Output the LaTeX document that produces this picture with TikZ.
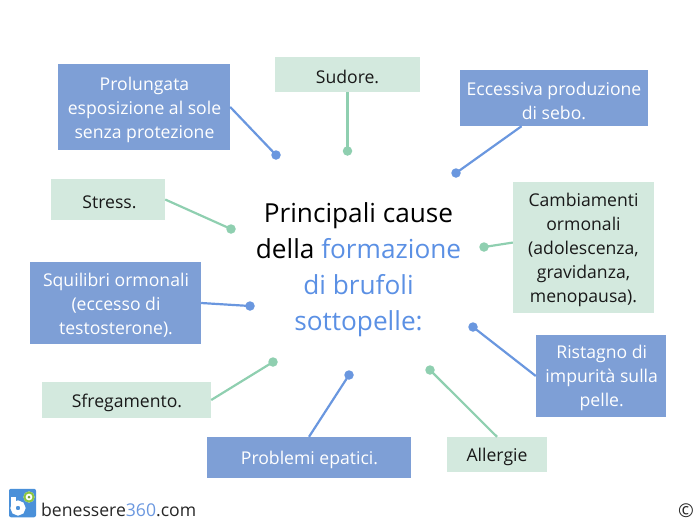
\documentclass[tikz,border=0pt]{standalone}
\usepackage{fontspec}
\setmainfont{Open Sans}
\definecolor{boxblue}{HTML}{7E9FD6}
\definecolor{boxgreen}{HTML}{D3E9DE}
\definecolor{lineblue}{HTML}{6A97DF}
\definecolor{linegreen}{HTML}{8FCFB0}
\definecolor{titleblue}{HTML}{5B90E4}
\definecolor{logoblue}{HTML}{4A90D9}
\definecolor{logogreen}{HTML}{8CC63F}
\tikzset{
  causebox/.style={inner sep=0pt},
  bluebox/.style={causebox,fill=boxblue},
  greenbox/.style={causebox,fill=boxgreen},
  causetext/.style={inner sep=0pt,align=center,font=\fontsize{17.6}{24}\selectfont},
  bluetext/.style={causetext,text=white},
  greentext/.style={causetext,text=black!90},
  bluedot/.style={circle,fill=lineblue,minimum size=9.5pt,inner sep=0pt},
  greendot/.style={circle,fill=linegreen,minimum size=9.5pt,inner sep=0pt},
  blueline/.style={draw=lineblue,line width=2.2pt},
  greenline/.style={draw=linegreen,line width=2.2pt},
}
\begin{document}
\begin{tikzpicture}[x=1pt,y=-1pt]
\useasboundingbox (0,0) rectangle (700,525);
\node[bluebox,minimum width=172pt,minimum height=86pt] (b1) at (144,107) {};
\node[greenbox,minimum width=145pt,minimum height=35pt] (b2) at (347.5,74.5) {};
\node[bluebox,minimum width=188pt,minimum height=56pt] (b3) at (554,98) {};
\node[greenbox,minimum width=114pt,minimum height=41pt] (b4) at (108,199.5) {};
\node[greenbox,minimum width=141pt,minimum height=131pt] (b5) at (583.5,247.5) {};
\node[bluebox,minimum width=171pt,minimum height=82pt] (b6) at (115.5,303) {};
\node[bluebox,minimum width=130pt,minimum height=82pt] (b7) at (601,376) {};
\node[greenbox,minimum width=169pt,minimum height=36pt] (b8) at (126.5,400) {};
\node[bluebox,minimum width=204pt,minimum height=41pt] (b9) at (309,457.5) {};
\node[greenbox,minimum width=100pt,minimum height=35pt] (b10) at (497,454.5) {};
\node[bluetext] (t1) at ([shift={(0.5pt,-2.5pt)}]b1.center) {Prolungata\\esposizione al sole\\senza protezione};
\node[greentext] (t2) at ([shift={(0pt,-2.5pt)}]b2.center) {Sudore.};
\node[bluetext] (t3) at ([shift={(0pt,-2.5pt)}]b3.center) {Eccessiva produzione\\di sebo.};
\node[greentext] (t4) at ([shift={(1.5pt,-2.5pt)}]b4.center) {Stress.};
\node[greentext] (t5) at ([shift={(0pt,-2.5pt)}]b5.center) {Cambiamenti\\ormonali\\(adolescenza,\\gravidanza,\\menopausa).};
\node[bluetext] (t6) at ([shift={(0.5pt,-2pt)}]b6.center) {Squilibri ormonali\\(eccesso di\\testosterone).};
\node[bluetext] (t7) at ([shift={(0.7pt,-2pt)}]b7.center) {Ristagno di\\impurità sulla\\pelle.};
\node[greentext] (t8) at ([shift={(0.5pt,-2.5pt)}]b8.center) {Sfregamento.};
\node[bluetext] (t9) at ([shift={(0.5pt,-2.5pt)}]b9.center) {Problemi epatici.};
\node[greentext] (t10) at ([shift={(0pt,-2.5pt)}]b10.center) {Allergie};
\node[bluedot] (d1) at (276,155) {};
\node[greendot] (d2) at (347.5,151) {};
\node[bluedot] (d3) at (456,173) {};
\node[greendot] (d4) at (231,229) {};
\node[greendot] (d5) at (484,247) {};
\node[bluedot] (d6) at (250,306) {};
\node[bluedot] (d7) at (473,327) {};
\node[greendot] (d8) at (273,362) {};
\node[bluedot] (d9) at (349,375) {};
\node[greendot] (d10) at (430,370) {};
\draw[blueline] (b1.east) -- (d1.center);
\draw[greenline] (b2.south) -- (d2.center);
\draw[blueline] (b3.221) -- (d3.center);
\draw[greenline] (b4.east) -- (d4.center);
\draw[greenline] (b5.176) -- (d5.center);
\draw[blueline] (b6.east) -- (d6.center);
\draw[blueline] (b7.west) -- (d7.center);
\draw[greenline] (b8.east) -- (d8.center);
\draw[blueline] (b9.north) -- (d9.center);
\draw[greenline] (b10.north) -- (d10.center);
\node[inner sep=0pt,align=center,font=\fontsize{26.2}{36}\selectfont] (title) at (358.5,270)
  {Principali cause\\della \textcolor{titleblue}{formazione}\\\textcolor{titleblue}{di brufoli}\\\textcolor{titleblue}{sottopelle:}};
% logo
\node[fill=logoblue,rounded corners=2pt,minimum width=27pt,minimum height=28.5pt,inner sep=0pt] (logo) at (22.5,503) {};
\draw[white,line width=5pt] (18,508) circle (5pt);
\draw[white,line width=4.6pt] (13.3,497) -- (13.3,508);
\fill[white] (29,497) circle (5.6pt);
\draw[logogreen,line width=2pt] (29,497) circle (4.6pt);
\fill[logogreen!80!black] (29,497) circle (1.5pt);
\node[anchor=west,inner sep=0pt,font=\fontsize{17.6}{20}\selectfont,text=black!85] (brand) at (41,509.5) {benessere\textcolor{lineblue}{360}.com};
\node[inner sep=0pt,font=\fontsize{19}{20}\selectfont,text=black!85] (copy) at (686,511) {©};
\end{tikzpicture}
\end{document}
